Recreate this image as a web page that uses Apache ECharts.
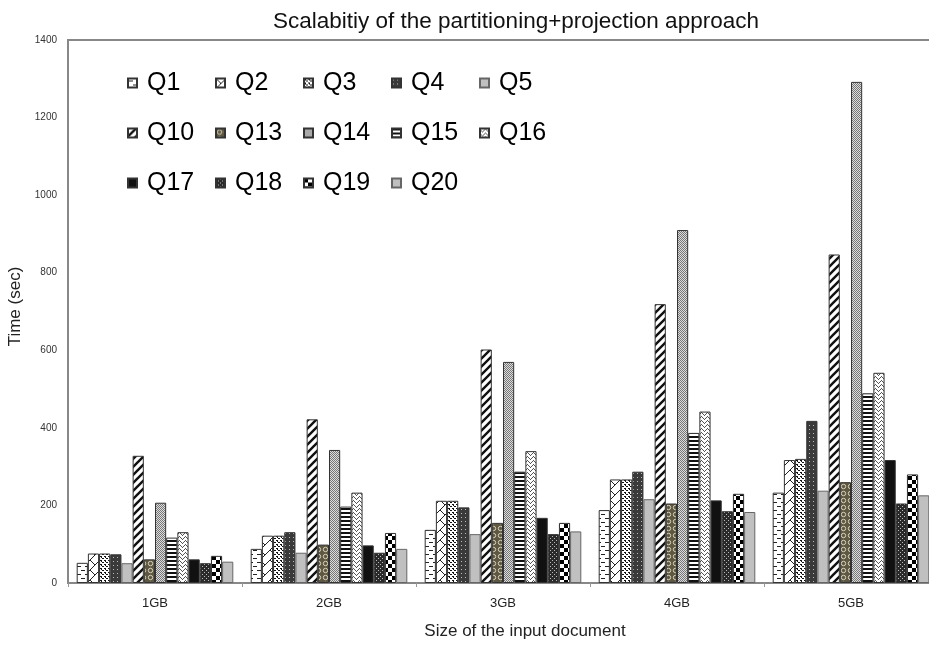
<!DOCTYPE html>
<html>
<head>
<meta charset="utf-8">
<title>Scalabitiy of the partitioning+projection approach</title>
<script src="https://cdn.jsdelivr.net/npm/echarts@6/dist/echarts.min.js"></script>
<style>
html, body { margin: 0; padding: 0; background: #fff; }
#chart { width: 929px; height: 649px; }
</style>
</head>
<body>
<div id="chart"></div>
<script>
// data (seconds)
var sizes = ['1GB', '2GB', '3GB', '4GB', '5GB'];
var queries = ['Q1', 'Q2', 'Q3', 'Q4', 'Q5', 'Q10', 'Q13', 'Q14', 'Q15', 'Q16', 'Q17', 'Q18', 'Q19', 'Q20'];
var yTicks = [0, 200, 400, 600, 800, 1000, 1200, 1400];

var q1  = [52, 88, 137, 188, 233];
var q2  = [76, 122, 212, 267, 317];
var q3  = [76, 122, 212, 267, 320];
var q4  = [74, 131, 195, 287, 418];
var q5  = [51, 78, 126, 216, 238];
var q10 = [328, 422, 602, 719, 847];
var q13 = [61, 99, 155, 205, 260];
var q14 = [207, 343, 570, 910, 1292];
var q15 = [117, 197, 287, 387, 489];
var q16 = [131, 233, 340, 442, 542];
var q17 = [61, 97, 168, 213, 317];
var q18 = [51, 78, 126, 185, 205];
var q19 = [70, 129, 155, 230, 280];
var q20 = [55, 88, 133, 183, 226];

var values = [q1, q2, q3, q4, q5, q10, q13, q14, q15, q16, q17, q18, q19, q20];

// small canvas tiles for the black & white fill patterns
function tile(w, h, bg, paint) {
  var c = document.createElement('canvas');
  c.width = w; c.height = h;
  var g = c.getContext('2d');
  g.fillStyle = bg;
  g.fillRect(0, 0, w, h);
  if (paint) paint(g);
  return { image: c, repeat: 'repeat' };
}

var fills = [
  // Q1 dashes
  tile(8, 8, '#fff', function (g) {
    g.fillStyle = '#222'; g.fillRect(1, 2, 4, 1); g.fillRect(5, 6, 3, 1); g.fillRect(0, 6, 1, 1);
  }),
  // Q2 zigzag
  tile(10, 10, '#fff', function (g) {
    g.strokeStyle = '#222'; g.lineWidth = 1;
    g.beginPath(); g.moveTo(0, 10); g.lineTo(10, 0); g.moveTo(0, 0); g.lineTo(5, 5); g.stroke();
  }),
  // Q3 confetti
  tile(4, 4, '#fff', function (g) {
    g.fillStyle = '#111'; g.fillRect(0, 0, 2, 1); g.fillRect(2, 2, 2, 1); g.fillRect(1, 1, 1, 1);
  }),
  // Q4 dark with dots
  tile(4, 4, '#3a3a3a', function (g) {
    g.fillStyle = '#bbb'; g.fillRect(1, 1, 1, 1);
  }),
  '#c0c0c0',
  // Q10 wide diagonal
  tile(8, 8, '#fff', function (g) {
    g.strokeStyle = '#111'; g.lineWidth = 2.4;
    g.beginPath(); g.moveTo(-2, 10); g.lineTo(10, -2); g.moveTo(-2, 2); g.lineTo(2, -2); g.moveTo(6, 10); g.lineTo(10, 6); g.stroke();
  }),
  // Q13 spheres
  tile(7, 7, '#5e5842', function (g) {
    g.strokeStyle = '#d9d3bb'; g.lineWidth = 1;
    g.beginPath(); g.arc(3.5, 3.5, 2.2, 0, Math.PI * 2); g.stroke();
  }),
  // Q14 fine gray dither
  tile(2, 2, '#dcdcdc', function (g) {
    g.fillStyle = '#777'; g.fillRect(0, 0, 1, 1); g.fillRect(1, 1, 1, 1);
  }),
  // Q15 horizontal lines
  tile(4, 4, '#fff', function (g) {
    g.fillStyle = '#111'; g.fillRect(0, 0, 4, 2);
  }),
  // Q16 light zigzag
  tile(6, 4, '#fff', function (g) {
    g.fillStyle = '#555'; g.fillRect(0, 1, 1, 1); g.fillRect(1, 2, 1, 1); g.fillRect(2, 3, 1, 1);
    g.fillRect(3, 2, 1, 1); g.fillRect(4, 1, 1, 1); g.fillRect(5, 0, 1, 1);
  }),
  '#111',
  // Q18 dark dotted diamond
  tile(4, 4, '#2a2a2a', function (g) {
    g.fillStyle = '#bbb'; g.fillRect(0, 0, 1, 1); g.fillRect(2, 2, 1, 1);
  }),
  // Q19 checkerboard
  tile(8, 8, '#fff', function (g) {
    g.fillStyle = '#000'; g.fillRect(0, 0, 4, 4); g.fillRect(4, 4, 4, 4);
  }),
  '#c0c0c0'
];

var series = queries.map(function (q, i) {
  return {
    name: q,
    type: 'bar',
    barGap: 0,
    barCategoryGap: '10%',
    itemStyle: {
      color: fills[i],
      borderColor: (i === 4 || i === 13) ? '#666' : '#333',
      borderWidth: 1
    },
    data: values[i]
  };
});

var chart = echarts.init(document.getElementById('chart'));
chart.setOption({
  animation: false,
  textStyle: { fontFamily: 'Liberation Sans, Arial, sans-serif' },
  title: {
    text: 'Scalabitiy of the partitioning+projection approach',
    left: 268,
    top: 5,
    textStyle: { fontSize: 22.5, fontWeight: 'normal', color: '#111' }
  },
  legend: {
    data: queries,
    left: 127,
    top: 67,
    width: 430,
    padding: 0,
    itemWidth: 9,
    itemHeight: 9,
    itemGap: 18,
    icon: 'rect',
    textStyle: { fontSize: 25, color: '#000', width: 50, lineHeight: 32, padding: [0, 0, 0, 5] }
  },
  grid: {
    left: 68, top: 40, width: 870, height: 543,
    outerBoundsMode: 'none',
    show: true, borderColor: '#888', borderWidth: 2
  },
  xAxis: {
    type: 'category',
    data: sizes,
    name: 'Size of the input document',
    nameLocation: 'middle',
    nameGap: 40,
    nameTextStyle: { fontSize: 17, color: '#222', padding: [0, 0, 0, 44] },
    axisLine: { lineStyle: { color: '#888', width: 2 } },
    axisTick: { show: true, length: 4, lineStyle: { color: '#999' } },
    axisLabel: { fontSize: 13, color: '#222', margin: 14 }
  },
  yAxis: {
    type: 'value',
    min: yTicks[0],
    max: yTicks[yTicks.length - 1],
    interval: 200,
    name: 'Time (sec)',
    nameLocation: 'middle',
    nameGap: 40,
    nameTextStyle: { fontSize: 17, color: '#222', padding: [0, 0, 0, 10] },
    axisLine: { show: true, lineStyle: { color: '#888', width: 2 } },
    axisTick: { show: false },
    splitLine: { show: false },
    axisLabel: { fontSize: 10, color: '#333', margin: 11, formatter: function (v) { return String(v); } }
  },
  series: series
});
</script>
</body>
</html>
